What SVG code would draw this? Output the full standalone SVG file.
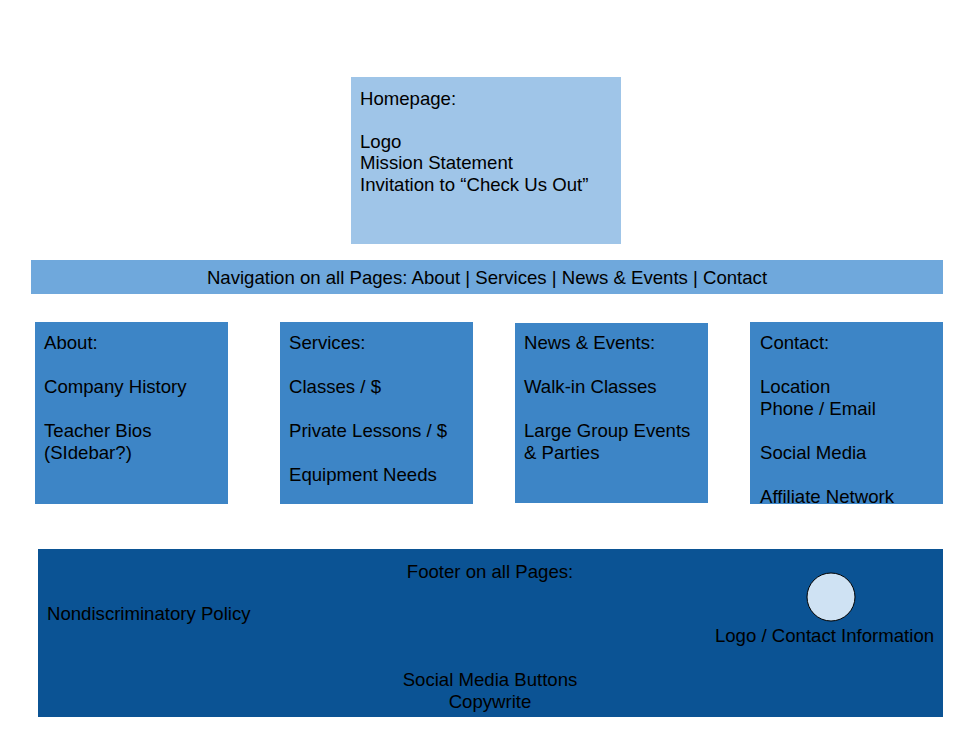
<svg xmlns="http://www.w3.org/2000/svg" width="958" height="745" viewBox="0 0 958 745">
<style>
text{font-family:"Liberation Sans",Arial,sans-serif;font-size:18.6px;fill:#000}
.c{text-anchor:middle}
</style>
<rect width="958" height="745" fill="#fff"/>
<g id="homepage">
<rect x="351" y="77" width="270" height="167" fill="#9fc5e8"/>
<text x="360" y="105">Homepage:</text>
<text x="360" y="148">Logo</text>
<text x="360" y="169">Mission Statement</text>
<text x="360" y="191">Invitation to “Check Us Out”</text>
</g>
<g id="navigation">
<rect x="31" y="260" width="912" height="34" fill="#6fa8dc"/>
<text x="487" y="284" class="c">Navigation on all Pages: About | Services | News &amp; Events | Contact</text>
</g>
<g id="about">
<rect x="35" y="322" width="193" height="182" fill="#3d85c6"/>
<text x="44" y="349">About:</text>
<text x="44" y="393">Company History</text>
<text x="44" y="437">Teacher Bios</text>
<text x="44" y="459">(SIdebar?)</text>
</g>
<g id="services">
<rect x="280" y="322" width="193" height="182" fill="#3d85c6"/>
<text x="289" y="349">Services:</text>
<text x="289" y="393">Classes / $</text>
<text x="289" y="437">Private Lessons / $</text>
<text x="289" y="481">Equipment Needs</text>
</g>
<g id="news">
<rect x="515" y="323" width="193" height="180" fill="#3d85c6"/>
<text x="524" y="349">News &amp; Events:</text>
<text x="524" y="393">Walk-in Classes</text>
<text x="524" y="437">Large Group Events</text>
<text x="524" y="459">&amp; Parties</text>
</g>
<g id="contact">
<rect x="750" y="322" width="193" height="182" fill="#3d85c6"/>
<text x="760" y="349">Contact:</text>
<text x="760" y="393">Location</text>
<text x="760" y="415">Phone / Email</text>
<text x="760" y="459">Social Media</text>
<text x="760" y="503">Affiliate Network</text>
</g>
<g id="footer">
<rect x="38" y="549" width="905" height="168" fill="#0b5394"/>
<text x="490" y="578" class="c">Footer on all Pages:</text>
<text x="47" y="620">Nondiscriminatory Policy</text>
<circle cx="831" cy="597" r="24" fill="#cfe2f3" stroke="#000" stroke-width="1"/>
<text x="824.5" y="642" class="c">Logo / Contact Information</text>
<text x="490" y="686" class="c">Social Media Buttons</text>
<text x="490" y="708" class="c">Copywrite</text>
</g>
<g id="connectors"></g>
</svg>
